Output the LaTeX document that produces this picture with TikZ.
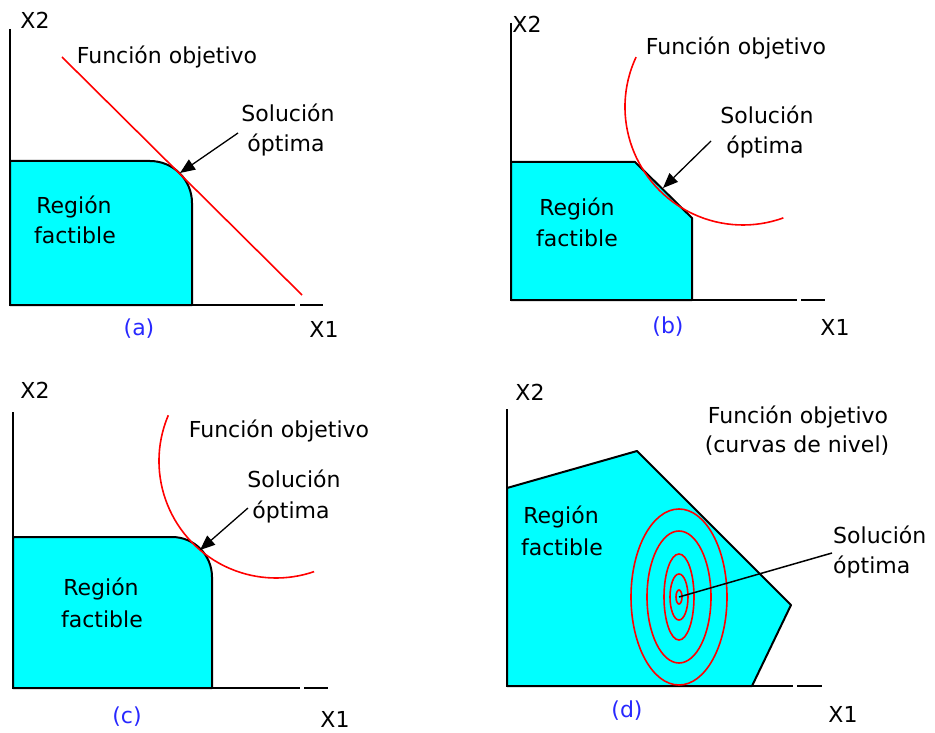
\documentclass[tikz,border=0pt]{standalone}
\usepackage{fontspec}
\setmainfont{DejaVu Sans}
\usetikzlibrary{arrows.meta}
\definecolor{fillc}{RGB}{0,255,255}
\definecolor{redc}{RGB}{255,0,0}
\definecolor{labc}{RGB}{40,40,255}
\begin{document}
\begin{tikzpicture}[x=1pt,y=-1pt,
  lbl/.style={font=\fontsize{22}{24}\selectfont, inner sep=0pt, anchor=base},
  lbll/.style={lbl, anchor=base west},
  tag/.style={lbl, text=labc},
  axis/.style={line width=2.2pt, black},
  region/.style={fill=fillc, draw=black, line width=2pt, line join=round},
  objf/.style={draw=redc, line width=1.6pt},
  ptr/.style={line width=1.3pt, -{Triangle[length=15pt,width=12pt]}},
  pline/.style={line width=1.5pt},
]
\useasboundingbox (0,0) rectangle (935,733);

% ---------- (a) ----------
\path[region] (10,305) -- (10,161) -- (150,161) arc[start angle=-90,end angle=0,radius=42] -- (192,305) -- cycle;
\draw[axis] (10,29) -- (10,305) -- (295,305);
\draw[axis] (300,305) -- (323,305);
\coordinate (a-f1) at (62,57);
\coordinate (a-f2) at (302,295);
\draw[objf] (a-f1) -- (a-f2);
\node[lbl] (a-x2) at (35,29) {X2};
\node[lbl] (a-x1) at (324,337) {X1};
\node[lbl] (a-fo) at (167,64) {Función objetivo};
\node[lbl] (a-s1) at (288,122) {Solución};
\node[lbl] (a-s2) at (286,152) {óptima};
\node[lbl] (a-r1) at (74,214) {Región};
\node[lbl] (a-r2) at (75,243) {factible};
\node[tag] (a-tag) at (139,335) {(a)};
\coordinate (a-tail) at (238,133);
\coordinate (a-tip) at (180,173);
\draw[ptr] (a-tail) -- (a-tip);

% ---------- (b) ----------
\path[region] (511,300) -- (511,162) -- (635,162) -- (692,218) -- (692,300) -- cycle;
\draw[axis] (511,23) -- (511,300) -- (797,300);
\draw[axis] (801,300) -- (825,300);
\coordinate (b-c) at (743,107);
\draw[objf] ([shift={(205:118)}]b-c) arc[start angle=205,end angle=70,radius=118];
\node[lbl] (b-x2) at (527,33) {X2};
\node[lbl] (b-x1) at (835,335) {X1};
\node[lbl] (b-fo) at (736,55) {Función objetivo};
\node[lbl] (b-s1) at (767,124) {Solución};
\node[lbl] (b-s2) at (765,154) {óptima};
\node[lbl] (b-r1) at (577,215) {Región};
\node[lbl] (b-r2) at (577,247) {factible};
\node[tag] (b-tag) at (668,333) {(b)};
\coordinate (b-tail) at (711,141);
\coordinate (b-tip) at (663,188);
\draw[ptr] (b-tail) -- (b-tip);

% ---------- (c) ----------
\path[region] (13,688) -- (13,537) -- (172,537) arc[start angle=-90,end angle=0,radius=40] -- (212,688) -- cycle;
\draw[axis] (13,412) -- (13,688) -- (300,688);
\draw[axis] (304,688) -- (328,688);
\coordinate (c-c) at (276,461);
\draw[objf] ([shift={(203:117)}]c-c) arc[start angle=203,end angle=71,radius=117];
\node[lbl] (c-x2) at (35,398) {X2};
\node[lbl] (c-x1) at (335,727) {X1};
\node[lbl] (c-fo) at (279,437) {Función objetivo};
\node[lbl] (c-s1) at (294,487) {Solución};
\node[lbl] (c-s2) at (291,518) {óptima};
\node[lbl] (c-r1) at (101,595) {Región};
\node[lbl] (c-r2) at (102,627) {factible};
\node[tag] (c-tag) at (127,723) {(c)};
\coordinate (c-tail) at (248,508);
\coordinate (c-tip) at (200,550);
\draw[ptr] (c-tail) -- (c-tip);

% ---------- (d) ----------
\path[region] (507,686) -- (507,488) -- (637,451) -- (791,605) -- (752,686) -- cycle;
\draw[axis] (507,409) -- (507,686) -- (793,686);
\draw[axis] (797,686) -- (822,686);
\coordinate (d-c) at (679,597);
\foreach \rx/\ry in {48/88,32/66,15/43,9/23,3/7}
  \draw[objf] (d-c) ellipse[x radius=\rx, y radius=\ry];
\node[lbl] (d-x2) at (530,400) {X2};
\node[lbl] (d-x1) at (843,722) {X1};
\node[lbl] (d-fo) at (798,423) {Función objetivo};
\node[lbl] (d-cn) at (797,452) {(curvas de nivel)};
\node[lbll] (d-s1) at (833,543) {Solución};
\node[lbll] (d-s2) at (833,573) {óptima};
\node[lbl] (d-r1) at (561,523) {Región};
\node[lbl] (d-r2) at (562,555) {factible};
\node[tag] (d-tag) at (627,717) {(d)};
\coordinate (d-tail) at (832,553);
\draw[pline] (d-c) -- (d-tail);
\end{tikzpicture}
\end{document}
